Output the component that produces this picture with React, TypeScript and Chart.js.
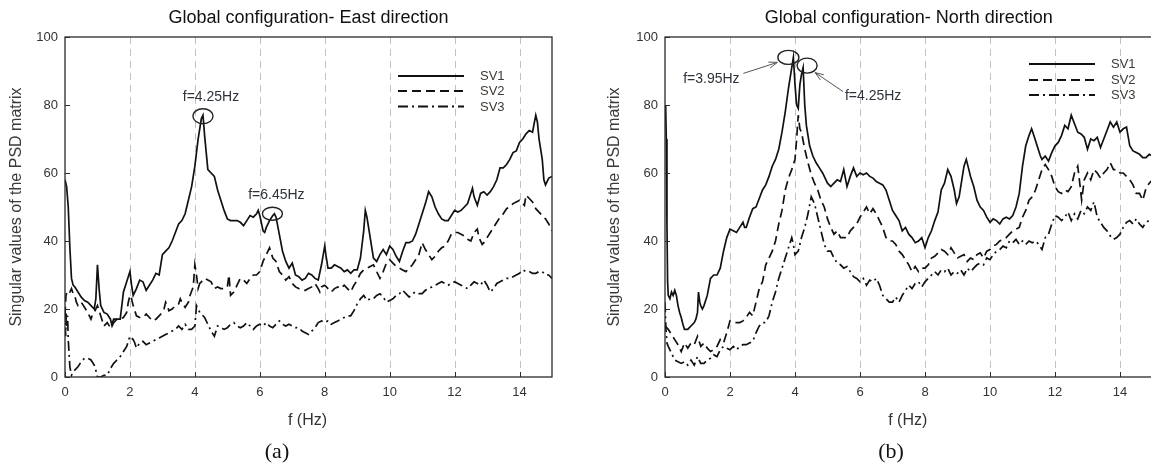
import React, { useEffect, useRef } from 'react';
import { Chart, registerables } from 'chart.js';

Chart.register(...registerables);

type Pt = [number, number];

// Axis ticks and series names
const FREQ_TICKS = [0, 2, 4, 6, 8, 10, 12, 14];
const VALUE_TICKS = [0, 20, 40, 60, 80, 100];
const SERIES_NAMES = ['SV1', 'SV2', 'SV3'];

// East direction singular values (frequency Hz, value)
const eastSv1: Pt[] = [
  [0, 58], [0.05, 56], [0.1, 50], [0.15, 38], [0.2, 29], [0.25, 27], [0.3, 26.5], [0.4, 25], [0.5, 23.5], [0.6, 22.5],
  [0.7, 22], [0.8, 21], [0.9, 20], [0.95, 23], [1.0, 33], [1.05, 26], [1.1, 21], [1.2, 19], [1.3, 18.5], [1.4, 17],
  [1.45, 15], [1.5, 16], [1.6, 17], [1.7, 17], [1.75, 21], [1.8, 25], [1.9, 28], [2.0, 31], [2.05, 27], [2.1, 24],
  [2.2, 26], [2.3, 28.5], [2.4, 28], [2.5, 25.5], [2.6, 27], [2.7, 28.5], [2.8, 30.5], [2.9, 30], [3.0, 36], [3.1, 37],
  [3.2, 38], [3.3, 40], [3.4, 42.5], [3.5, 45], [3.6, 46], [3.7, 48], [3.8, 52], [3.9, 56], [4.0, 62], [4.05, 66],
  [4.1, 70], [4.15, 73], [4.2, 76], [4.25, 77], [4.3, 71], [4.35, 66], [4.4, 61], [4.5, 60], [4.6, 59], [4.7, 55],
  [4.8, 52], [4.9, 49], [5.0, 46.5], [5.1, 46], [5.2, 46], [5.3, 46], [5.4, 45.5], [5.5, 44.5], [5.6, 46], [5.7, 47.5],
  [5.8, 47], [5.9, 48], [5.95, 49], [6.0, 47.5], [6.1, 43], [6.15, 42.5], [6.2, 44], [6.3, 46], [6.4, 47.5], [6.45, 48],
  [6.5, 47], [6.6, 42], [6.7, 37], [6.8, 34], [6.9, 32], [7.0, 33.5], [7.1, 30], [7.2, 29.5], [7.3, 28.5], [7.4, 29],
  [7.5, 30.5], [7.6, 30], [7.7, 29], [7.8, 28.5], [7.9, 33], [8.0, 38.5], [8.05, 35], [8.1, 32], [8.2, 32], [8.3, 33],
  [8.4, 32.5], [8.5, 32], [8.6, 31], [8.7, 31.5], [8.8, 30.5], [8.9, 31.5], [9.0, 31.5], [9.1, 35], [9.2, 43], [9.25, 49],
  [9.3, 47], [9.4, 41], [9.5, 35], [9.6, 34], [9.7, 36], [9.8, 37.5], [9.9, 36], [10.0, 38.5], [10.1, 37.5], [10.2, 35.5],
  [10.3, 34], [10.4, 37], [10.5, 39.5], [10.6, 39.5], [10.7, 40], [10.8, 42], [10.9, 45], [11.0, 48], [11.1, 51], [11.2, 54.5],
  [11.3, 53], [11.4, 50], [11.5, 48], [11.6, 46.5], [11.7, 46], [11.8, 46], [11.9, 47.5], [12.0, 49], [12.1, 48.5], [12.2, 49],
  [12.3, 50], [12.4, 51], [12.5, 54], [12.55, 55.5], [12.6, 53], [12.7, 50.5], [12.8, 54], [12.9, 54.5], [13.0, 53.5], [13.1, 54.5],
  [13.2, 56], [13.3, 58], [13.4, 61.5], [13.5, 61.5], [13.6, 62.5], [13.7, 64], [13.8, 66], [13.9, 66.5], [14.0, 69], [14.1, 70],
  [14.2, 71.5], [14.3, 72.5], [14.4, 72], [14.5, 77], [14.55, 75], [14.6, 70], [14.7, 64], [14.75, 58], [14.8, 56.5], [14.9, 58.5],
  [15.0, 59],
];

const eastSv2: Pt[] = [
  [0, 18], [0.03, 24], [0.08, 25.5], [0.15, 25], [0.2, 26], [0.25, 24.5], [0.3, 24], [0.35, 22], [0.4, 21], [0.5, 22],
  [0.6, 20.5], [0.7, 19], [0.75, 18], [0.8, 17], [0.85, 18.5], [0.9, 19], [1.0, 21], [1.05, 19.5], [1.1, 18], [1.15, 16.5],
  [1.2, 15], [1.3, 16], [1.4, 14.5], [1.5, 17], [1.6, 17], [1.7, 17], [1.8, 17.5], [1.9, 19], [1.95, 22], [2.0, 24],
  [2.05, 23], [2.1, 21], [2.2, 18], [2.3, 17.5], [2.4, 17.5], [2.5, 18.5], [2.6, 17.5], [2.7, 16.5], [2.8, 17], [2.9, 18],
  [3.0, 19], [3.05, 20], [3.1, 22], [3.15, 21], [3.2, 19.5], [3.3, 20], [3.4, 21], [3.5, 21.5], [3.55, 23], [3.6, 22],
  [3.7, 20.5], [3.8, 22], [3.85, 24], [3.95, 26.5], [4.0, 33], [4.05, 30], [4.1, 26], [4.15, 27.5], [4.2, 28], [4.3, 29],
  [4.4, 28.5], [4.5, 28], [4.6, 26], [4.7, 26.5], [4.8, 26], [4.9, 26], [5.0, 26.5], [5.05, 30], [5.1, 24], [5.2, 25],
  [5.3, 27], [5.4, 29], [5.5, 28.5], [5.6, 27.5], [5.7, 29], [5.8, 30], [5.9, 30], [6.0, 31], [6.1, 34], [6.2, 36],
  [6.3, 38], [6.35, 36.5], [6.4, 35], [6.5, 34], [6.6, 31], [6.7, 30], [6.8, 28.5], [6.9, 29.5], [7.0, 27.5], [7.1, 26.5],
  [7.2, 26], [7.3, 25.5], [7.4, 25.5], [7.5, 26], [7.6, 26.5], [7.7, 27.5], [7.8, 26], [7.85, 25], [7.9, 26.5], [8.0, 27],
  [8.1, 26], [8.2, 25], [8.3, 26], [8.4, 26.5], [8.5, 26], [8.6, 27], [8.7, 26], [8.8, 25], [8.9, 27], [9.0, 28.5],
  [9.1, 30.5], [9.2, 31.5], [9.3, 32], [9.4, 32.5], [9.5, 33], [9.6, 31], [9.7, 29], [9.8, 31], [9.9, 33.5], [10.0, 34.5],
  [10.1, 33.5], [10.2, 32.5], [10.3, 32], [10.4, 31.5], [10.5, 31], [10.6, 32], [10.7, 33], [10.8, 34.5], [10.9, 36], [11.0, 39.5],
  [11.1, 37.5], [11.2, 36], [11.3, 34.5], [11.4, 35.5], [11.5, 37], [11.6, 38], [11.7, 38.5], [11.8, 40], [11.9, 42], [12.0, 42.5],
  [12.1, 42.5], [12.2, 42], [12.3, 41.5], [12.4, 40.5], [12.5, 40], [12.6, 42.5], [12.7, 43.5], [12.75, 41], [12.85, 39], [12.9, 39.5],
  [13.0, 41], [13.1, 42.5], [13.2, 44], [13.3, 45.5], [13.4, 47], [13.5, 48], [13.6, 49.5], [13.7, 50], [13.8, 51], [13.9, 51.5],
  [14.0, 52], [14.1, 51], [14.15, 50.5], [14.2, 53.5], [14.3, 52.5], [14.4, 51.5], [14.5, 49.5], [14.6, 48.5], [14.7, 47.5], [14.8, 46.5],
  [14.9, 45], [15.0, 43],
];

const eastSv3: Pt[] = [
  [0, 20], [0.02, 12], [0.04, 19], [0.06, 15], [0.08, 18], [0.1, 11], [0.15, 3], [0.2, 0.5], [0.25, 1.5], [0.3, 2],
  [0.4, 3], [0.5, 4.5], [0.6, 5.5], [0.7, 5.5], [0.8, 5], [0.9, 3.5], [0.95, 2], [1.0, 0], [1.1, 0], [1.2, 0.5],
  [1.3, 0.5], [1.4, 2.5], [1.5, 4], [1.6, 5], [1.7, 6], [1.8, 7.5], [1.9, 9], [2.0, 12], [2.1, 11], [2.15, 10],
  [2.2, 8.5], [2.3, 10], [2.4, 10.5], [2.5, 9.5], [2.6, 10], [2.7, 10.5], [2.8, 11], [2.9, 11.5], [3.0, 12], [3.1, 12.5],
  [3.2, 13], [3.3, 13.5], [3.4, 14], [3.5, 15], [3.6, 14], [3.7, 15.5], [3.8, 14], [3.9, 14], [4.0, 15], [4.05, 21],
  [4.1, 20], [4.15, 19], [4.2, 18.5], [4.3, 17.5], [4.4, 15.5], [4.5, 13.5], [4.6, 12], [4.7, 15], [4.8, 14.5], [4.9, 14],
  [5.0, 14.5], [5.1, 15.5], [5.2, 16], [5.3, 15], [5.4, 14.5], [5.5, 15], [5.6, 16], [5.7, 15], [5.8, 14], [5.9, 15],
  [6.0, 15.5], [6.1, 15], [6.2, 16], [6.3, 15], [6.4, 14.5], [6.5, 15.5], [6.6, 16.5], [6.7, 15.5], [6.8, 15], [6.9, 15.5],
  [7.0, 15], [7.1, 14.5], [7.2, 14.5], [7.3, 13.5], [7.4, 13], [7.5, 12.5], [7.6, 13.5], [7.7, 14.5], [7.8, 16], [7.9, 16.5],
  [8.0, 16], [8.1, 16.5], [8.2, 15.5], [8.3, 16], [8.4, 16.5], [8.5, 17], [8.6, 17.5], [8.7, 18], [8.8, 18], [8.9, 19.5],
  [9.0, 21.5], [9.1, 23], [9.2, 24], [9.3, 22.5], [9.4, 23], [9.5, 23], [9.6, 24], [9.7, 24.5], [9.8, 23.5], [9.9, 22],
  [10.0, 22.5], [10.1, 23], [10.2, 24], [10.3, 24.5], [10.4, 25.5], [10.5, 24.5], [10.6, 23.5], [10.7, 24.5], [10.8, 25], [10.9, 24.5],
  [11.0, 24.5], [11.1, 25.5], [11.2, 26], [11.3, 26.5], [11.4, 27], [11.5, 27.5], [11.6, 28], [11.7, 27.5], [11.8, 27], [11.9, 27.5],
  [12.0, 28], [12.1, 27.5], [12.2, 27], [12.3, 26.5], [12.4, 26], [12.5, 27], [12.6, 28], [12.7, 27.5], [12.8, 27], [12.9, 28.5],
  [13.0, 27], [13.1, 25], [13.2, 26], [13.3, 27.5], [13.4, 28], [13.5, 28.5], [13.6, 29], [13.7, 29], [13.8, 29.5], [13.9, 30],
  [14.0, 30.5], [14.1, 31.5], [14.2, 31], [14.3, 31], [14.4, 30.5], [14.5, 30.5], [14.6, 31], [14.7, 31], [14.8, 30], [14.9, 30],
  [15.0, 29],
];

// North direction singular values (frequency Hz, value)
const northSv1: Pt[] = [
  [0, 78], [0.02, 80], [0.04, 70], [0.06, 45], [0.08, 28], [0.1, 24], [0.15, 23], [0.2, 25], [0.25, 24], [0.3, 25.5],
  [0.35, 24], [0.4, 21], [0.45, 19], [0.5, 17.5], [0.55, 15.5], [0.6, 14], [0.7, 14], [0.75, 14.5], [0.8, 15], [0.9, 16],
  [0.95, 17], [1.0, 19], [1.03, 25], [1.07, 22], [1.1, 21], [1.15, 20], [1.2, 21], [1.3, 24], [1.4, 29], [1.5, 30],
  [1.6, 30], [1.7, 32], [1.8, 37], [1.9, 41], [2.0, 43.5], [2.1, 43], [2.2, 42.5], [2.3, 44], [2.4, 45.5], [2.45, 44],
  [2.5, 44], [2.6, 47], [2.7, 49.5], [2.8, 50], [2.9, 52.5], [3.0, 55], [3.1, 56.5], [3.2, 59], [3.3, 62], [3.4, 64],
  [3.5, 67], [3.6, 72], [3.7, 78], [3.8, 85], [3.9, 91], [3.95, 94], [4.0, 86], [4.05, 80], [4.1, 79], [4.15, 86],
  [4.2, 89], [4.25, 91], [4.3, 80], [4.35, 74], [4.45, 68], [4.55, 65], [4.65, 63], [4.75, 61.5], [4.85, 60], [5.0, 57],
  [5.1, 56], [5.2, 57], [5.3, 58], [5.4, 57.5], [5.5, 61], [5.6, 56], [5.7, 59], [5.8, 61.5], [5.9, 59], [6.0, 60],
  [6.1, 59.5], [6.2, 60], [6.3, 59], [6.4, 58.5], [6.5, 57.5], [6.6, 57], [6.7, 56.5], [6.8, 55], [6.9, 52], [7.0, 49],
  [7.1, 47.5], [7.2, 46], [7.3, 43], [7.4, 44], [7.5, 42], [7.6, 41], [7.7, 39.5], [7.8, 40], [7.9, 41], [8.0, 38],
  [8.1, 41], [8.2, 43], [8.3, 46], [8.4, 48.5], [8.5, 55], [8.6, 57], [8.7, 61], [8.8, 59], [8.9, 55], [8.97, 51],
  [9.05, 53], [9.1, 56], [9.2, 62], [9.27, 64], [9.35, 61], [9.4, 59], [9.5, 56], [9.6, 52], [9.7, 50], [9.8, 49],
  [9.9, 47], [10.0, 45.5], [10.1, 46.5], [10.2, 46], [10.3, 45], [10.4, 46.5], [10.5, 47], [10.6, 46.5], [10.7, 47.5], [10.8, 50],
  [10.9, 54], [11.0, 62], [11.1, 68], [11.2, 71], [11.28, 73], [11.35, 71], [11.45, 68], [11.55, 65], [11.6, 64], [11.7, 65],
  [11.8, 63.5], [11.9, 66], [12.0, 68], [12.1, 69], [12.2, 71], [12.3, 74], [12.4, 73], [12.5, 77], [12.6, 74.5], [12.7, 72],
  [12.8, 71.5], [12.9, 70.5], [13.0, 67], [13.1, 70], [13.2, 69.5], [13.3, 70.5], [13.4, 67.5], [13.5, 70], [13.6, 72.5], [13.7, 75],
  [13.8, 73.5], [13.9, 75], [14.0, 72], [14.1, 73], [14.2, 73.5], [14.3, 68], [14.4, 66.5], [14.5, 66], [14.6, 65.5], [14.7, 64.5],
  [14.8, 64.5], [14.9, 65.5], [15.0, 65],
];

const northSv2: Pt[] = [
  [0, 15], [0.05, 14.5], [0.1, 14], [0.2, 12.5], [0.3, 11], [0.4, 9.5], [0.5, 7.5], [0.6, 10], [0.7, 8.5], [0.8, 10],
  [0.9, 9.5], [1.0, 12], [1.1, 9], [1.2, 10], [1.3, 8.5], [1.4, 7.5], [1.5, 8], [1.6, 9], [1.7, 11], [1.8, 10],
  [1.9, 13], [2.0, 16.5], [2.1, 16], [2.2, 16], [2.3, 16], [2.4, 16.5], [2.5, 17.5], [2.6, 19], [2.7, 18], [2.8, 22],
  [2.9, 26], [3.0, 28], [3.1, 33], [3.2, 35], [3.3, 37], [3.4, 40], [3.5, 45], [3.6, 49], [3.7, 55], [3.8, 58.5],
  [3.9, 61], [4.0, 64], [4.05, 70], [4.1, 77], [4.15, 73], [4.2, 72], [4.3, 67], [4.4, 63], [4.5, 59.5], [4.6, 57],
  [4.7, 55], [4.8, 52], [4.9, 50], [5.0, 46.5], [5.1, 44], [5.2, 42], [5.3, 43], [5.4, 41], [5.5, 41], [5.6, 41],
  [5.7, 43], [5.8, 44], [5.9, 45], [6.0, 47], [6.1, 48.5], [6.2, 50], [6.3, 48], [6.4, 49.5], [6.5, 48], [6.6, 46],
  [6.7, 44], [6.8, 41], [6.9, 40], [7.0, 40], [7.1, 39], [7.2, 37], [7.3, 36], [7.4, 34.5], [7.5, 33], [7.6, 31],
  [7.7, 32.5], [7.8, 31], [7.9, 32], [8.0, 32], [8.1, 33], [8.2, 35], [8.3, 35.5], [8.4, 36.5], [8.5, 37.5], [8.6, 37],
  [8.7, 36], [8.8, 38], [8.9, 36.5], [9.0, 35], [9.1, 35.5], [9.2, 36], [9.3, 34], [9.4, 35], [9.5, 34.5], [9.6, 36],
  [9.7, 36.5], [9.8, 35], [9.9, 37], [10.0, 37.5], [10.1, 38.5], [10.2, 39], [10.3, 40], [10.4, 40.5], [10.5, 41], [10.6, 42],
  [10.7, 43], [10.8, 43.5], [10.9, 44], [11.0, 47], [11.1, 49], [11.2, 52], [11.3, 53], [11.4, 55], [11.5, 58], [11.6, 61],
  [11.7, 62.5], [11.8, 61], [11.9, 59], [12.0, 56], [12.1, 54.5], [12.2, 54], [12.3, 55], [12.4, 54.5], [12.5, 56], [12.6, 60],
  [12.7, 62], [12.75, 58], [12.82, 52], [12.9, 58], [13.0, 60], [13.1, 58], [13.2, 61], [13.3, 60], [13.4, 58.5], [13.5, 60],
  [13.6, 61], [13.7, 63], [13.8, 61], [13.9, 61], [14.0, 60], [14.1, 60], [14.2, 59], [14.3, 58], [14.4, 56.5], [14.5, 54],
  [14.6, 54], [14.7, 52], [14.8, 55.5], [14.9, 57], [15.0, 58],
];

const northSv3: Pt[] = [
  [0, 22], [0.03, 14], [0.06, 10], [0.1, 9], [0.2, 7], [0.3, 5], [0.4, 4.5], [0.5, 4], [0.6, 4.5], [0.7, 3.5],
  [0.8, 5], [0.9, 3.5], [1.0, 6], [1.1, 4], [1.2, 4], [1.3, 5], [1.4, 5.5], [1.5, 6.5], [1.6, 6], [1.7, 8],
  [1.8, 9], [1.9, 8.5], [2.0, 8], [2.1, 9], [2.2, 8], [2.3, 9], [2.4, 9.5], [2.5, 9.5], [2.6, 10], [2.7, 10.5],
  [2.8, 13], [2.9, 15], [3.0, 16], [3.1, 16], [3.2, 18], [3.3, 22], [3.4, 25], [3.5, 29], [3.6, 32], [3.7, 35],
  [3.8, 38], [3.9, 41], [3.95, 39], [4.0, 36], [4.1, 37], [4.2, 41], [4.3, 44], [4.4, 48], [4.5, 53], [4.6, 51],
  [4.7, 47], [4.8, 43], [4.9, 39], [5.0, 37], [5.1, 37], [5.2, 35], [5.3, 33.5], [5.4, 33], [5.5, 32], [5.6, 32.5],
  [5.7, 31], [5.8, 29.5], [5.9, 29], [6.0, 28], [6.1, 29], [6.2, 27], [6.3, 28.5], [6.4, 28], [6.5, 29], [6.6, 27],
  [6.7, 24], [6.8, 23], [6.9, 22], [7.0, 22], [7.1, 23.5], [7.2, 22], [7.3, 24], [7.4, 25.5], [7.5, 27], [7.6, 26],
  [7.7, 27.5], [7.8, 28], [7.9, 26.5], [8.0, 28], [8.1, 29], [8.2, 30], [8.3, 31], [8.4, 30], [8.5, 31.5], [8.6, 31],
  [8.7, 32], [8.8, 30], [8.9, 31], [9.0, 30.5], [9.1, 31.5], [9.2, 30], [9.3, 32], [9.4, 31], [9.5, 32], [9.6, 33],
  [9.7, 33.5], [9.8, 33], [9.9, 35], [10.0, 34.5], [10.1, 36], [10.2, 37], [10.3, 37.5], [10.4, 38.5], [10.5, 38], [10.6, 40],
  [10.7, 39.5], [10.8, 40.5], [10.9, 39], [11.0, 40], [11.1, 39], [11.2, 40], [11.3, 39.5], [11.4, 40], [11.5, 39], [11.6, 37.5],
  [11.7, 41], [11.8, 42], [11.9, 45], [12.0, 47.5], [12.1, 47], [12.2, 46], [12.3, 47], [12.4, 48.5], [12.5, 46], [12.6, 48],
  [12.7, 46.5], [12.8, 49], [12.9, 48], [13.0, 50], [13.1, 49], [13.2, 51.5], [13.3, 47], [13.4, 45.5], [13.5, 44], [13.6, 43],
  [13.7, 41.5], [13.8, 40.5], [13.9, 41], [14.0, 42], [14.1, 44], [14.2, 45.5], [14.3, 46], [14.4, 45], [14.5, 46.5], [14.6, 45],
  [14.7, 44], [14.8, 45.5], [14.9, 46], [15.0, 45],
];

// Marked peaks: frequency, value, label
const eastPeaks = [
  { f: 4.25, v: 77, label: 'f=4.25Hz' },
  { f: 6.45, v: 48, label: 'f=6.45Hz' },
];
const northPeaks = [
  { f: 3.95, v: 94, label: 'f=3.95Hz' },
  { f: 4.25, v: 91, label: 'f=4.25Hz' },
];

const SANS = '"Liberation Sans", Arial, sans-serif';
const SERIF = '"Liberation Serif", "Times New Roman", serif';
const LINE_DASHES: number[][] = [[], [9, 5], [10, 4, 2, 4]];

interface PeakStyle {
  ell: [number, number, number, number]; // dx, dy, rx, ry
  text: [number, number];
  arrow?: [number, number, number, number]; // tail dx, dy, tip dx, dy
}

interface PanelProps {
  title: string;
  caption: string;
  series: Pt[][];
  peaks: { f: number; v: number; label: string }[];
  peakStyles: PeakStyle[];
  left: number;
  width: number;
  axisWidth: number;
  padRight: number;
  legend: { x0: number; x1: number; tx: number; ys: number[] };
  yTitleX: number;
  captionX: number;
}

function drawArrow(ctx: CanvasRenderingContext2D, x0: number, y0: number, x1: number, y1: number) {
  ctx.beginPath();
  ctx.moveTo(x0, y0);
  ctx.lineTo(x1, y1);
  const a = Math.atan2(y1 - y0, x1 - x0);
  const L = 9;
  const w = 0.35;
  ctx.moveTo(x1 - L * Math.cos(a - w), y1 - L * Math.sin(a - w));
  ctx.lineTo(x1, y1);
  ctx.lineTo(x1 - L * Math.cos(a + w), y1 - L * Math.sin(a + w));
  ctx.stroke();
}

function Panel(p: PanelProps) {
  const ref = useRef<HTMLCanvasElement | null>(null);

  useEffect(() => {
    if (!ref.current) return;
    const decor = {
      id: 'decor',
      beforeDatasetsDraw(chart: any) {
        const { ctx, chartArea: a, scales } = chart;
        const x = scales.x;
        ctx.save();
        ctx.strokeStyle = '#c2c2c2';
        ctx.lineWidth = 1;
        ctx.setLineDash([7, 5]);
        for (const v of FREQ_TICKS) {
          if (v === 0) continue;
          const px = Math.round(x.getPixelForValue(v)) + 0.5;
          ctx.beginPath();
          ctx.moveTo(px, a.top);
          ctx.lineTo(px, a.bottom);
          ctx.stroke();
        }
        ctx.restore();
      },
      afterDatasetsDraw(chart: any) {
        const { ctx, chartArea: a, scales } = chart;
        const x = scales.x;
        const y = scales.y;
        ctx.save();
        // frame
        ctx.strokeStyle = '#2a2a2a';
        ctx.lineWidth = 1.3;
        ctx.setLineDash([]);
        ctx.strokeRect(a.left, a.top, a.right - a.left, a.bottom - a.top);
        // inward tick marks
        ctx.lineWidth = 1;
        ctx.beginPath();
        for (const v of VALUE_TICKS) {
          const py = Math.round(y.getPixelForValue(v)) + 0.5;
          ctx.moveTo(a.left, py);
          ctx.lineTo(a.left + 5, py);
        }
        for (const v of FREQ_TICKS) {
          const px = Math.round(x.getPixelForValue(v)) + 0.5;
          ctx.moveTo(px, a.bottom);
          ctx.lineTo(px, a.bottom - 5);
        }
        ctx.stroke();

        // legend
        const lg = p.legend;
        SERIES_NAMES.forEach((name, i) => {
          ctx.strokeStyle = '#111';
          ctx.lineWidth = 1.8;
          ctx.setLineDash(LINE_DASHES[i]);
          ctx.beginPath();
          ctx.moveTo(lg.x0, lg.ys[i]);
          ctx.lineTo(lg.x1, lg.ys[i]);
          ctx.stroke();
          ctx.setLineDash([]);
          ctx.fillStyle = '#3d3935';
          ctx.font = `13px ${SANS}`;
          ctx.textAlign = 'left';
          ctx.textBaseline = 'middle';
          ctx.fillText(name, lg.tx, lg.ys[i] + 0.5);
        });

        // peak markers
        p.peaks.forEach((pk, i) => {
          const st = p.peakStyles[i];
          const px = x.getPixelForValue(pk.f);
          const py = y.getPixelForValue(pk.v);
          ctx.strokeStyle = '#222';
          ctx.lineWidth = 1.4;
          ctx.beginPath();
          ctx.ellipse(px + st.ell[0], py + st.ell[1], st.ell[2], st.ell[3], 0, 0, Math.PI * 2);
          ctx.stroke();
          ctx.fillStyle = '#2e333b';
          ctx.font = `14px ${SANS}`;
          ctx.textAlign = 'center';
          ctx.textBaseline = 'middle';
          ctx.fillText(pk.label, px + st.text[0], py + st.text[1]);
          if (st.arrow) {
            ctx.strokeStyle = '#555';
            ctx.lineWidth = 1;
            drawArrow(ctx, px + st.arrow[0], py + st.arrow[1], px + st.arrow[2], py + st.arrow[3]);
          }
        });

        // titles
        const cx = (a.left + a.right) / 2;
        ctx.fillStyle = '#111';
        ctx.font = `18px ${SANS}`;
        ctx.textAlign = 'center';
        ctx.textBaseline = 'middle';
        ctx.fillText(p.title, cx, 18);
        ctx.fillStyle = '#333';
        ctx.font = `16px ${SANS}`;
        ctx.fillText('f (Hz)', cx - 1, 421);
        ctx.fillStyle = '#111';
        ctx.font = `22px ${SERIF}`;
        ctx.fillText(p.caption, p.captionX, 452);
        ctx.save();
        ctx.translate(p.yTitleX, (a.top + a.bottom) / 2);
        ctx.rotate(-Math.PI / 2);
        ctx.fillStyle = '#3a3a3a';
        ctx.font = `16px ${SANS}`;
        ctx.fillText('Singular values of the PSD matrix', 0, 0);
        ctx.restore();
        ctx.restore();
      },
    };

    const chart = new Chart(ref.current, {
      type: 'line',
      data: {
        datasets: p.series.map((s, i) => ({
          label: SERIES_NAMES[i],
          data: s.map(([f, v]) => ({ x: f, y: v })),
          borderColor: '#111',
          borderWidth: 1.7,
          borderDash: LINE_DASHES[i],
          pointRadius: 0,
          tension: 0,
          fill: false,
        })),
      },
      options: {
        animation: false,
        responsive: false,
        events: [],
        layout: { padding: { top: 37, right: p.padRight, left: 0, bottom: 0 } },
        plugins: { legend: { display: false }, title: { display: false }, tooltip: { enabled: false } },
        scales: {
          x: {
            type: 'linear',
            min: 0,
            max: 15,
            grid: { display: false, drawTicks: false },
            border: { display: false },
            afterBuildTicks: (s: any) => { s.ticks = FREQ_TICKS.map((v) => ({ value: v })); },
            afterFit: (s: any) => { s.height = 89; },
            ticks: { color: '#333', font: { family: SANS, size: 13 }, padding: 8, maxRotation: 0 },
          },
          y: {
            type: 'linear',
            min: 0,
            max: 100,
            grid: { display: false, drawTicks: false },
            border: { display: false },
            afterBuildTicks: (s: any) => { s.ticks = VALUE_TICKS.map((v) => ({ value: v })); },
            afterFit: (s: any) => { s.width = p.axisWidth; },
            ticks: { color: '#333', font: { family: SANS, size: 13 }, padding: 7 },
          },
        },
      },
      plugins: [decor],
    } as any);
    return () => chart.destroy();
  }, []);

  return (
    <canvas
      ref={ref}
      width={p.width}
      height={466}
      style={{ position: 'absolute', left: p.left, top: 0, width: p.width, height: 466 }}
    />
  );
}

export default function App() {
  return (
    <div
      style={{
        position: 'fixed',
        left: 0,
        top: 0,
        width: 1151,
        height: 466,
        overflow: 'hidden',
        background: '#fff',
      }}
    >
      <Panel
        title="Global configuration- East direction"
        caption="(a)"
        series={[eastSv1, eastSv2, eastSv3]}
        peaks={eastPeaks}
        peakStyles={[
          { ell: [0, 1, 10, 7.5], text: [8, -18] },
          { ell: [-2, 0, 10, 6.5], text: [2, -19] },
        ]}
        left={0}
        width={575}
        axisWidth={65}
        padRight={23}
        legend={{ x0: 398, x1: 464, tx: 480, ys: [76, 91, 106.5] }}
        yTitleX={17}
        captionX={277}
      />
      <Panel
        title="Global configuration- North direction"
        caption="(b)"
        series={[northSv1, northSv2, northSv3]}
        peaks={northPeaks}
        peakStyles={[
          { ell: [-5, 0, 10.5, 7], text: [-82, 22], arrow: [-50, 16, -16, 5] },
          { ell: [4, -2, 10, 7.5], text: [70, 29], arrow: [40, 24, 12, 5] },
        ]}
        left={575}
        width={600}
        axisWidth={90}
        padRight={22.5}
        legend={{ x0: 454, x1: 520, tx: 536, ys: [64, 80, 95] }}
        yTitleX={40}
        captionX={316}
      />
    </div>
  );
}
